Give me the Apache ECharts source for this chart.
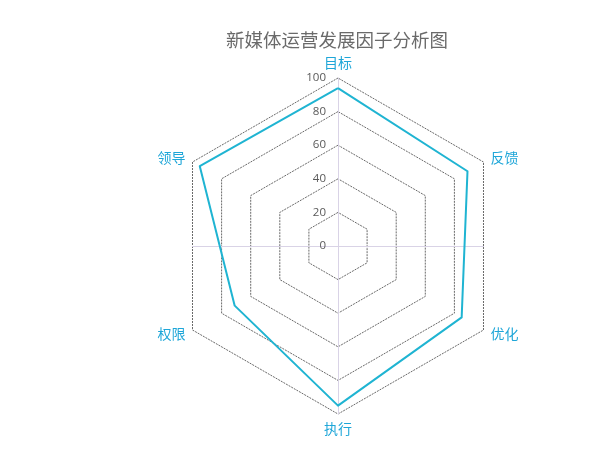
<!DOCTYPE html>
<html>
<head>
<meta charset="utf-8">
<script src="https://cdn.jsdelivr.net/npm/echarts@6/dist/echarts.min.js"></script>
<style>
  html, body { margin: 0; padding: 0; background: #fff; }
  #chart { width: 612px; height: 458px; }
</style>
</head>
<body>
<div id="chart"></div>
<script>
// indicators in ECharts order (counterclockwise from top)
var indicatorNames = ["目标", "领导", "权限", "执行", "优化", "反馈"];
var factorValues = [94, 95, 71, 95, 85, 89];
var axisMax = 100;

var mainColor = "#1fb4d2";
var labelColor = "#1ea6d8";

var chart = echarts.init(document.getElementById("chart"));

var indicators = indicatorNames.map(function (name, i) {
  var item = { name: name, max: axisMax, min: 0 };
  if (i === 0) {
    // only the top axis carries the tick labels
    item.axisLabel = {
      show: true,
      color: "#595959",
      fontSize: 11.5,
      fontFamily: "Open Sans",
      margin: 12
    };
  }
  return item;
});

var option = {
  backgroundColor: "#fff",
  title: {
    text: "新媒体运营发展因子分析图",
    left: 221,
    top: 26,
    textStyle: {
      color: "#6a6a6a",
      fontSize: 18.5,
      fontWeight: "normal",
      fontFamily: "Noto Sans CJK SC"
    }
  },
  radar: [
    {
      center: [338, 246],
      radius: 168,
      startAngle: 90,
      splitNumber: 5,
      shape: "polygon",
      indicator: indicators,
      nameGap: 8,
      axisName: {
        color: labelColor,
        fontSize: 14,
        fontFamily: "Noto Sans CJK SC"
      },
      axisLine: { show: false },
      axisTick: { show: false },
      axisLabel: { show: false },
      splitArea: { show: false },
      splitLine: {
        lineStyle: { color: "#6a6a6a", width: 1, type: [2, 1] }
      }
    },
    {
      // vertical cross line
      center: [338, 246],
      radius: 168,
      startAngle: 90,
      indicator: [{ name: "", max: axisMax }, { name: "", max: axisMax }],
      axisName: { show: false },
      axisLine: { lineStyle: { color: "#d9d3e6", width: 1 } },
      splitLine: { show: false },
      splitArea: { show: false },
      axisLabel: { show: false },
      silent: true
    },
    {
      // horizontal cross line
      center: [338, 246],
      radius: 145.5,
      startAngle: 0,
      indicator: [{ name: "", max: axisMax }, { name: "", max: axisMax }],
      axisName: { show: false },
      axisLine: { lineStyle: { color: "#d9d3e6", width: 1 } },
      splitLine: { show: false },
      splitArea: { show: false },
      axisLabel: { show: false },
      silent: true
    }
  ],
  series: [
    {
      type: "radar",
      radarIndex: 0,
      symbol: "none",
      lineStyle: { color: mainColor, width: 2 },
      areaStyle: { opacity: 0 },
      data: [{ value: factorValues, name: "因子" }]
    }
  ]
};

chart.setOption(option);
</script>
</body>
</html>
